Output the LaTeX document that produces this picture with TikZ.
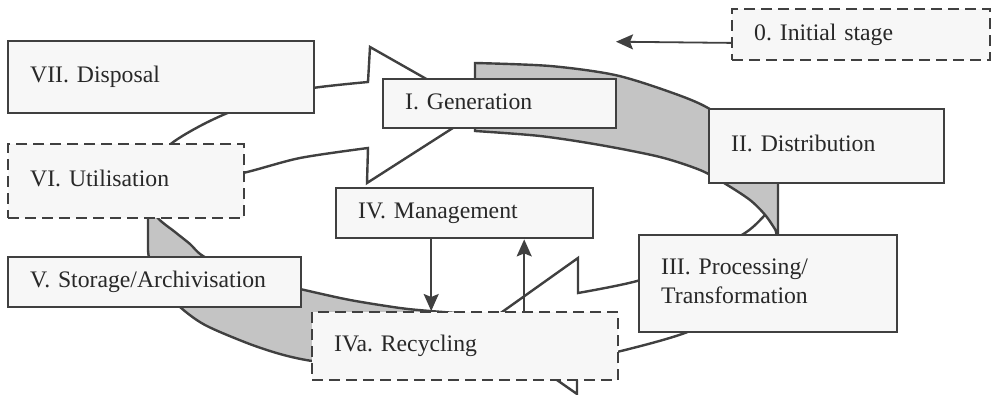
\documentclass[tikz,border=0pt]{standalone}
\usepackage{fontspec}
\setmainfont{Liberation Serif}
\usetikzlibrary{arrows.meta}
\definecolor{linec}{RGB}{64,64,64}
\definecolor{txtc}{RGB}{40,40,40}
\definecolor{ringfill}{RGB}{196,196,196}
\definecolor{boxfill}{RGB}{247,247,247}
\frenchspacing
\begin{document}
\begin{tikzpicture}[x=1pt,y=-1pt,
  stage/.style={draw=linec, line width=2.4pt, fill=boxfill, anchor=north west,
    inner xsep=22pt, inner ysep=0pt, align=left, text=txtc,
    font=\fontsize{23.7pt}{29pt}\selectfont\frenchspacing, text height=16.2pt, text depth=5.1pt},
  dstage/.style={stage, dash pattern=on 11pt off 6pt},
  ringg/.style={fill=ringfill, draw=linec, line width=2.4pt},
  ringw/.style={fill=white, draw=linec, line width=2.4pt},
  conn/.style={draw=linec, line width=1.8pt, -{Stealth[length=17pt,width=15pt,inset=3pt]}}
]
\useasboundingbox (0,0) rectangle (993,395);
\fill[white] (0,0) rectangle (993,395);

% C: white arrow from III towards IVa
\filldraw[ringw] (481,327) -- (578,258) -- (578,293)
  -- plot[smooth] coordinates {(578,293) (637,281) (695,260) (745,233) (765,215) (772,207)}
  -- (777,238)
  -- plot[smooth] coordinates {(777,238) (740,300) (690,331) (617,352) (577,359)}
  -- (577,394) -- cycle;

% B: grey band from I to III
\filldraw[ringg] plot[smooth] coordinates {(475,63) (550,66) (615,75) (670,92) (708,108) (750,138) (775,170) (778,182)}
  -- (778,234)
  -- plot[smooth] coordinates {(778,234) (766,216) (750,200) (724,183) (700,170) (660,157) (600,145) (540,136) (475,131)}
  -- cycle;

% D: grey band from IVa to VI
\filldraw[ringg] plot[smooth] coordinates {(470,376) (380,370) (312,361) (280,354) (247,343) (205,325) (180,307) (160,285) (150,262) (148,250)}
  -- (148,200) -- (153,200)
  -- plot[smooth] coordinates {(153,200) (157,217) (175,232) (190,244) (203,256) (240,275) (300,289) (350,300) (400,308) (430,311) (470,314)}
  -- cycle;

% A: white arrow from VI/VII to I
\filldraw[ringw] plot[smooth] coordinates {(130,195) (145,168) (172,143) (200,126) (230,112) (270,98) (313,88) (368,82)}
  -- (370,47) -- (481,110) -- (367,183) -- (368,148)
  -- plot[smooth] coordinates {(368,148) (300,158) (243,173) (180,185) (130,195)}
  -- cycle;

% stages
\node[stage, text width=262pt, minimum height=72pt] (disp) at (7,40) {VII. Disposal};
\node[dstage, text width=192pt, minimum height=74pt] (util) at (7,143) {VI. Utilisation};
\node[stage, text width=189pt, minimum height=49pt] (gen) at (382,78) {I. Generation};
\node[dstage, text width=214pt, minimum height=51pt] (init) at (731,8) {0. Initial stage};
\node[stage, text width=191pt, minimum height=74pt] (dist) at (708,108) {II. Distribution};
\node[stage, text width=213pt, minimum height=50pt] (mgmt) at (335,187) {IV. Management};
\node[stage, text width=214pt, minimum height=97pt, text depth=34.1pt] (proc) at (638,234) {III. Processing/\\Transformation};
\node[stage, text width=249pt, minimum height=50pt] (stor) at (7,256) {V. Storage/Archivisation};
\node[dstage, text width=262pt, minimum height=68pt] (recyc) at (311,311) {IVa. Recycling};

% connectors
\coordinate (inittip) at (616,41.7);
\draw[conn] ([yshift=-8.2pt]init.west) -- (inittip);
\draw[conn] ([xshift=-33.5pt]mgmt.south) -- ([xshift=-33.5pt]mgmt.south |- recyc.north);
\draw[conn] ([xshift=59.5pt]mgmt.south |- recyc.north) -- ([xshift=59.5pt]mgmt.south);
\end{tikzpicture}
\end{document}
